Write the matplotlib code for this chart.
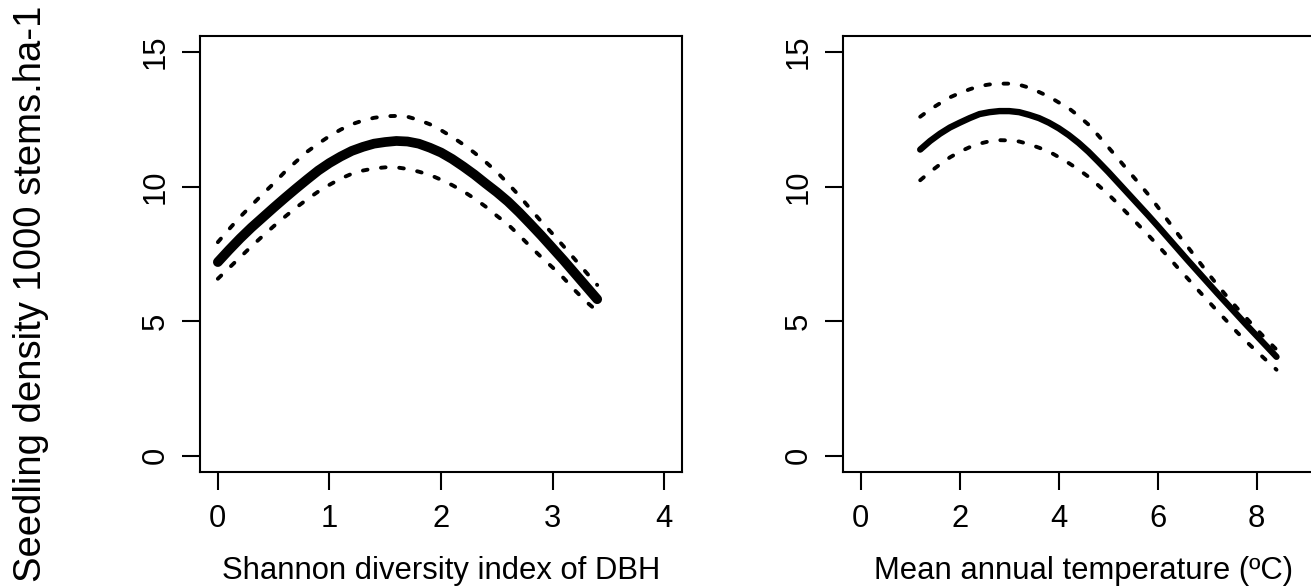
import matplotlib
matplotlib.use("Agg")
import matplotlib.pyplot as plt

plt.rcParams['font.family'] = ['Liberation Sans', 'DejaVu Sans']

# left panel: Shannon diversity index of DBH
shannon_x = [0.0, 0.1, 0.2, 0.3, 0.4, 0.5, 0.6, 0.7, 0.8, 0.9, 1.0, 1.1, 1.2, 1.3, 1.4, 1.5, 1.6, 1.7,
             1.8, 1.9, 2.0, 2.1, 2.2, 2.3, 2.4, 2.5, 2.6, 2.7, 2.8, 2.9, 3.0, 3.1, 3.2, 3.3, 3.4]
shannon_fit = [7.2, 7.65, 8.08, 8.48, 8.85, 9.22, 9.58, 9.93, 10.27, 10.6, 10.88, 11.12, 11.33, 11.48,
               11.6, 11.66, 11.7, 11.68, 11.6, 11.45, 11.27, 11.03, 10.75, 10.45, 10.12, 9.8, 9.45,
               9.05, 8.62, 8.18, 7.72, 7.26, 6.78, 6.3, 5.82]
shannon_upper = [7.94, 8.42, 8.88, 9.3, 9.72, 10.12, 10.55, 10.93, 11.3, 11.6, 11.88, 12.12, 12.32,
                 12.46, 12.56, 12.62, 12.63, 12.6, 12.48, 12.32, 12.1, 11.85, 11.57, 11.26, 10.92,
                 10.55, 10.12, 9.67, 9.18, 8.7, 8.25, 7.78, 7.3, 6.82, 6.35]
shannon_lower = [6.58, 6.98, 7.38, 7.78, 8.16, 8.53, 8.88, 9.22, 9.53, 9.82, 10.07, 10.3, 10.48, 10.6,
                 10.68, 10.72, 10.72, 10.66, 10.56, 10.44, 10.26, 10.06, 9.83, 9.56, 9.26, 8.92, 8.6,
                 8.2, 7.78, 7.38, 7.0, 6.6, 6.15, 5.73, 5.38]

# right panel: mean annual temperature
temp_x = [1.2, 1.4, 1.6, 1.8, 2.0, 2.2, 2.4, 2.6, 2.8, 3.0, 3.2, 3.4, 3.6, 3.8, 4.0, 4.2, 4.4, 4.6, 4.8,
          5.0, 5.2, 5.4, 5.6, 5.8, 6.0, 6.2, 6.4, 6.6, 6.8, 7.0, 7.2, 7.4, 7.6, 7.8, 8.0, 8.2, 8.4]
temp_fit = [11.38, 11.7, 11.97, 12.2, 12.38, 12.55, 12.7, 12.77, 12.81, 12.81, 12.77, 12.67, 12.55,
            12.38, 12.17, 11.92, 11.63, 11.3, 10.93, 10.55, 10.15, 9.75, 9.35, 8.95, 8.54, 8.12,
            7.7, 7.28, 6.87, 6.46, 6.05, 5.65, 5.25, 4.85, 4.46, 4.07, 3.68]
temp_upper = [12.6, 12.87, 13.1, 13.32, 13.48, 13.62, 13.74, 13.8, 13.83, 13.83, 13.79, 13.68, 13.52,
              13.35, 13.13, 12.92, 12.63, 12.31, 11.9, 11.47, 11.04, 10.6, 10.17, 9.73, 9.25, 8.75,
              8.26, 7.78, 7.3, 6.82, 6.36, 5.92, 5.5, 5.1, 4.7, 4.32, 3.95]
temp_lower = [10.24, 10.55, 10.83, 11.09, 11.3, 11.47, 11.6, 11.69, 11.73, 11.72, 11.68, 11.58, 11.45,
              11.31, 11.1, 10.88, 10.64, 10.37, 10.05, 9.72, 9.36, 8.98, 8.6, 8.22, 7.82, 7.42, 7.0,
              6.6, 6.19, 5.79, 5.39, 5.0, 4.6, 4.23, 3.88, 3.54, 3.2]

y_ticks = [0, 5, 10, 15]
shannon_ticks = [0, 1, 2, 3, 4]
temp_ticks = [0, 2, 4, 6, 8]

fig = plt.figure(figsize=(13.11, 5.88), dpi=100)
fig.patch.set_facecolor('white')

# the right panel runs a little past the picture edge, as in the original
ax1 = fig.add_axes((200 / 1311, 116 / 588, 482 / 1311, 436 / 588))
ax2 = fig.add_axes((843 / 1311, 116 / 588, 481 / 1311, 436 / 588))


def draw_panel(ax, x, fit, upper, lower, fit_lw, xticks, xlim, xlabel):
    ax.plot(x, fit, color='black', lw=fit_lw, solid_capstyle='round',
            solid_joinstyle='round')
    for band in (upper, lower):
        ax.plot(x, band, color='black', lw=2.8, linestyle=(0, (1.2, 3.5)),
                dash_capstyle='round')
    ax.set_xlim(*xlim)
    ax.set_ylim(-0.6, 15.6)
    ax.set_xticks(xticks)
    ax.set_xticklabels([str(t) for t in xticks])
    ax.set_yticks(y_ticks)
    ax.set_yticklabels([str(t) for t in y_ticks], rotation=90, va='center')
    for sp in ax.spines.values():
        sp.set_linewidth(1.5)
    ax.tick_params(axis='both', direction='out', length=13, width=1.5,
                   labelsize=22.3, colors='black')
    ax.tick_params(axis='x', pad=10)
    ax.tick_params(axis='y', pad=8)
    ax.set_xlabel(xlabel, fontsize=22.3, labelpad=16)


draw_panel(ax1, shannon_x, shannon_fit, shannon_upper, shannon_lower, 7.0,
           shannon_ticks, (-0.16, 4.16), 'Shannon diversity index of DBH')
draw_panel(ax2, temp_x, temp_fit, temp_upper, temp_lower, 4.6,
           temp_ticks, (-0.36, 9.36), 'Mean annual temperature (ºC)')

fig.text(31 / 1311, 0.5, 'Seedling density 1000 stems.ha-1', rotation=90,
         ha='center', va='center', fontsize=27.5)

fig.savefig('out.png', dpi=100)
